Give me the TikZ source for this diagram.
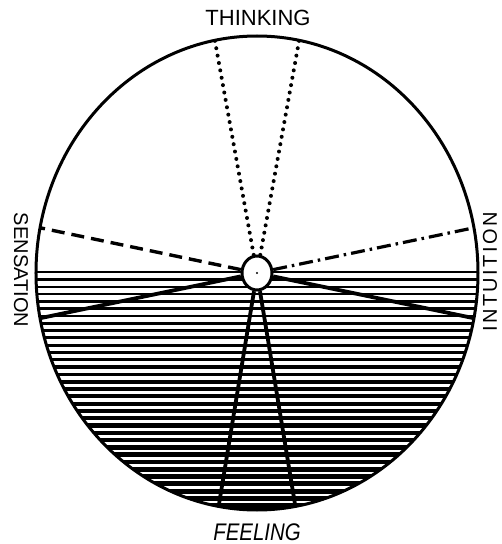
\documentclass[tikz,border=0pt]{standalone}
\usepackage{fontspec}
\setmainfont{Liberation Sans}
\usetikzlibrary{shapes.geometric}

\begin{document}
\begin{tikzpicture}[
  x=1pt, y=1pt,
  rim/.style={line width=3pt},
  selfbox/.style={ellipse,draw,line width=3pt,fill=white,
    minimum width=30pt,minimum height=34pt,inner sep=0pt},
  thinkline/.style={line width=4pt,line cap=round,dash pattern=on 0pt off 7.5pt},
  senseline/.style={line width=3.4pt,dash pattern=on 13pt off 7pt},
  intuitline/.style={line width=3.2pt,dash pattern=on 14pt off 5pt on 2.5pt off 5pt},
  feelline/.style={line width=3.8pt},
  fnlabel/.style={font=\fontsize{22}{26}\selectfont,inner sep=0pt}
]
  \useasboundingbox (-257,-271) rectangle (245,273);
  \begin{scope}
    \clip (0,0) ellipse [x radius=221pt, y radius=237pt];
    \fill (-230,2) rectangle (230,-240);
    \foreach \k [evaluate=\k as \w using 5.2-0.11*\k,
                 evaluate=\k as \yy using -2.8-7.3*\k] in {0,...,33}
      \draw[white,line width=\w pt] (-230,\yy) -- (230,\yy);
  \end{scope}
  \node[selfbox] (self) at (0,0) {};
  \coordinate (think west) at (101:221 and 237);
  \coordinate (think east) at (79:221 and 237);
  \coordinate (sense up) at (169:221 and 237);
  \coordinate (sense down) at (191:221 and 237);
  \coordinate (intuit up) at (11:221 and 237);
  \coordinate (intuit down) at (-11:221 and 237);
  \coordinate (feel west) at (260:221 and 237);
  \coordinate (feel east) at (280:221 and 237);
  \draw[thinkline] (self) -- (think west);
  \draw[thinkline] (self) -- (think east);
  \draw[senseline] (self) -- (sense up);
  \draw[intuitline] (self) -- (intuit up);
  \draw[feelline] (self) -- (sense down);
  \draw[feelline] (self) -- (intuit down);
  \draw[feelline] (self) -- (feel west);
  \draw[feelline] (self) -- (feel east);
  \draw[rim] (0,0) ellipse [x radius=221pt, y radius=237pt];
  \fill (self.center) circle (1.2pt);
  \node[fnlabel] (thinking) at (1,255) {THINKING};
  \node[fnlabel,font=\fontsize{24}{28}\selectfont\itshape,xscale=0.85] (feeling) at (0,-259) {FEELING};
  \node[fnlabel,rotate=-90,font=\fontsize{20}{24}\selectfont] (sensation) at (-236,3) {SENSATION};
  \node[fnlabel,rotate=90,font=\fontsize{20}{24}\selectfont\addfontfeatures{LetterSpace=12}] (intuition) at (233,1) {INTUITION};
\end{tikzpicture}
\end{document}
